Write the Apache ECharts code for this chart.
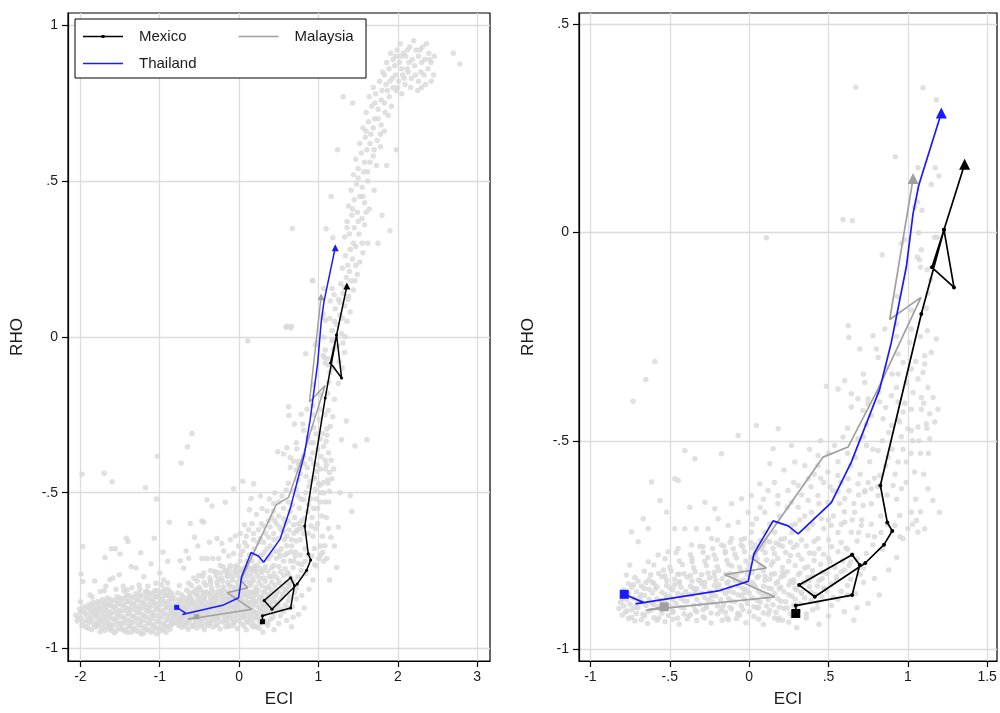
<!DOCTYPE html>
<html><head><meta charset="utf-8">
<script src="https://cdn.jsdelivr.net/npm/echarts@6/dist/echarts.min.js"></script>
<style>html,body{margin:0;padding:0;background:#fff}#c{width:1000px;height:713px}</style>
</head><body><div id="c"></div>
<script>
// ---- country paths (ECI, RHO) ----
const mexico = [[0.294,-0.914],[0.294,-0.895],[0.649,-0.870],[0.697,-0.798],[0.649,-0.773],[0.315,-0.846],[0.414,-0.874],[0.732,-0.793],[0.850,-0.749],[0.902,-0.716],[0.871,-0.696],[0.827,-0.607],[1.085,-0.196],[1.228,0.006],[1.152,-0.084],[1.291,-0.132],[1.228,0.006],[1.358,0.163]];
const thailand = [[-0.787,-0.868],[-0.663,-0.888],[-0.716,-0.891],[-0.195,-0.860],[-0.006,-0.837],[0.031,-0.770],[0.151,-0.692],[0.246,-0.704],[0.309,-0.723],[0.518,-0.648],[0.644,-0.551],[0.823,-0.376],[0.896,-0.264],[0.991,-0.082],[1.033,0.045],[1.069,0.113],[1.211,0.286]];
const malaysia = [[-0.535,-0.898],[-0.647,-0.906],[0.162,-0.874],[-0.153,-0.821],[0.109,-0.805],[0.019,-0.782],[0.466,-0.539],[0.623,-0.515],[0.812,-0.376],[1.083,-0.156],[0.886,-0.209],[1.033,0.129]];

// ---- background cloud (shown in both panels) ----
const cloudBand = [
[-0.72,-0.932],[-0.64,-0.938],[-0.53,-0.934],[-0.44,-0.94],[-0.33,-0.931],[-0.24,-0.937],[-0.13,-0.929],[-0.02,-0.936],[0.09,-0.94],[0.21,-0.93],[0.3,-0.948],
[-0.8,-0.918],[-0.74,-0.923],[-0.67,-0.916],[-0.6,-0.924],[-0.51,-0.919],[-0.45,-0.925],[-0.37,-0.917],[-0.29,-0.922],[-0.2,-0.915],[-0.14,-0.924],[-0.06,-0.918],[0.03,-0.921],[0.12,-0.916],[0.19,-0.925],[0.27,-0.92],[0.36,-0.915],
[-0.82,-0.902],[-0.77,-0.908],[-0.7,-0.9],[-0.62,-0.907],[-0.56,-0.903],[-0.48,-0.909],[-0.41,-0.901],[-0.34,-0.906],[-0.27,-0.9],[-0.18,-0.908],[-0.11,-0.903],[-0.04,-0.905],[0.05,-0.9],[0.13,-0.907],[0.22,-0.902],[0.31,-0.909],[0.4,-0.905],
[-0.81,-0.888],[-0.75,-0.892],[-0.68,-0.886],[-0.6,-0.893],[-0.53,-0.887],[-0.46,-0.891],[-0.39,-0.885],[-0.31,-0.892],[-0.23,-0.888],[-0.16,-0.894],[-0.09,-0.886],[-0.01,-0.89],[0.07,-0.887],[0.15,-0.893],[0.23,-0.886],[0.32,-0.891],[0.43,-0.888],[0.52,-0.895],
[-0.8,-0.872],[-0.73,-0.877],[-0.66,-0.871],[-0.58,-0.878],[-0.5,-0.873],[-0.43,-0.879],[-0.36,-0.87],[-0.28,-0.876],[-0.21,-0.872],[-0.13,-0.878],[-0.05,-0.871],[0.02,-0.877],[0.1,-0.873],[0.18,-0.879],[0.27,-0.872],[0.35,-0.877],[0.46,-0.874],[0.56,-0.88],
[-0.79,-0.858],[-0.71,-0.862],[-0.63,-0.856],[-0.55,-0.863],[-0.48,-0.857],[-0.4,-0.861],[-0.33,-0.855],[-0.25,-0.862],[-0.17,-0.858],[-0.1,-0.864],[-0.02,-0.857],[0.06,-0.861],[0.14,-0.855],[0.22,-0.862],[0.3,-0.858],[0.39,-0.863],[0.48,-0.856],[0.58,-0.861],[0.67,-0.866],
[-0.76,-0.843],[-0.68,-0.848],[-0.6,-0.842],[-0.52,-0.847],[-0.44,-0.841],[-0.37,-0.849],[-0.3,-0.843],[-0.22,-0.847],[-0.14,-0.841],[-0.07,-0.848],[0.01,-0.844],[0.09,-0.849],[0.17,-0.842],[0.25,-0.846],[0.34,-0.841],[0.43,-0.848],[0.52,-0.843],[0.62,-0.847],
[-0.72,-0.828],[-0.63,-0.833],[-0.55,-0.826],[-0.47,-0.832],[-0.39,-0.827],[-0.32,-0.834],[-0.25,-0.829],[-0.17,-0.831],[-0.1,-0.826],[-0.03,-0.833],[0.05,-0.828],[0.13,-0.832],[0.2,-0.827],[0.28,-0.834],[0.37,-0.828],[0.46,-0.831],[0.55,-0.826],[0.64,-0.832],
[-0.66,-0.813],[-0.57,-0.818],[-0.49,-0.812],[-0.41,-0.819],[-0.34,-0.814],[-0.26,-0.817],[-0.19,-0.811],[-0.12,-0.818],[-0.05,-0.813],[0.02,-0.816],[0.09,-0.812],[0.16,-0.819],[0.24,-0.814],[0.32,-0.817],[0.4,-0.811],[0.49,-0.818],[0.58,-0.814],
[-0.6,-0.798],[-0.5,-0.803],[-0.42,-0.797],[-0.35,-0.804],[-0.27,-0.799],[-0.2,-0.802],[-0.13,-0.796],[-0.06,-0.803],[0.0,-0.798],[0.07,-0.801],[0.14,-0.797],[0.21,-0.804],[0.29,-0.799],[0.37,-0.802],[0.45,-0.796],[0.54,-0.803],[0.63,-0.799],[0.72,-0.805],
[-0.53,-0.783],[-0.44,-0.788],[-0.36,-0.782],[-0.28,-0.789],[-0.21,-0.784],[-0.14,-0.787],[-0.08,-0.781],[-0.02,-0.788],[0.05,-0.783],[0.11,-0.786],[0.18,-0.782],[0.25,-0.789],[0.33,-0.784],[0.41,-0.787],[0.5,-0.781],[0.59,-0.788],[0.68,-0.784],
[-0.46,-0.768],[-0.37,-0.773],[-0.29,-0.767],[-0.22,-0.774],[-0.15,-0.769],[-0.09,-0.772],[-0.03,-0.766],[0.04,-0.773],[0.1,-0.768],[0.16,-0.771],[0.23,-0.767],[0.31,-0.774],[0.38,-0.769],[0.47,-0.772],[0.56,-0.766],[0.65,-0.773],
[-0.31,-0.753],[-0.23,-0.758],[-0.16,-0.752],[-0.1,-0.759],[-0.04,-0.754],[0.02,-0.757],[0.09,-0.751],[0.15,-0.758],[0.21,-0.753],[0.28,-0.756],[0.36,-0.752],[0.44,-0.759],[0.52,-0.754],[0.61,-0.757],
[-0.2,-0.738],[-0.12,-0.743],[-0.05,-0.737],[0.01,-0.744],[0.07,-0.739],[0.13,-0.742],[0.2,-0.736],[0.26,-0.743],[0.33,-0.738],[0.41,-0.741],[0.5,-0.737],[0.58,-0.744]
];
const cloudCore = [
[-0.76,-0.926],[-0.68,-0.929],[-0.57,-0.925],[-0.48,-0.928],[-0.39,-0.927],[-0.28,-0.925],[-0.17,-0.93],[-0.08,-0.926],[0.06,-0.928],[0.16,-0.925],
[-0.78,-0.911],[-0.71,-0.914],[-0.64,-0.91],[-0.55,-0.913],[-0.48,-0.911],[-0.41,-0.915],[-0.33,-0.91],[-0.24,-0.913],[-0.15,-0.911],[-0.07,-0.914],[0.0,-0.91],[0.09,-0.913],[0.17,-0.911],[0.26,-0.914],
[-0.79,-0.896],[-0.72,-0.899],[-0.65,-0.895],[-0.57,-0.898],[-0.5,-0.896],[-0.43,-0.899],[-0.35,-0.895],[-0.27,-0.898],[-0.2,-0.896],[-0.12,-0.899],[-0.05,-0.895],[0.03,-0.898],[0.11,-0.896],[0.19,-0.899],[0.28,-0.895],
[-0.77,-0.881],[-0.7,-0.884],[-0.63,-0.88],[-0.56,-0.883],[-0.48,-0.881],[-0.41,-0.884],[-0.33,-0.88],[-0.26,-0.883],[-0.18,-0.881],[-0.11,-0.884],[-0.03,-0.88],[0.05,-0.883],[0.12,-0.881],[0.2,-0.884],[0.29,-0.88],[0.39,-0.883],
[-0.76,-0.866],[-0.68,-0.869],[-0.61,-0.865],[-0.53,-0.868],[-0.45,-0.866],[-0.38,-0.869],[-0.3,-0.865],[-0.23,-0.868],[-0.15,-0.866],[-0.07,-0.869],[0.0,-0.865],[0.08,-0.868],[0.16,-0.866],[0.25,-0.869],[0.33,-0.865],[0.42,-0.868],
[-0.74,-0.851],[-0.66,-0.854],[-0.58,-0.85],[-0.5,-0.853],[-0.43,-0.851],[-0.35,-0.854],[-0.28,-0.85],[-0.2,-0.853],[-0.12,-0.851],[-0.04,-0.854],[0.04,-0.85],[0.12,-0.853],[0.2,-0.851],[0.29,-0.854],[0.38,-0.85],[0.47,-0.853],
[-0.7,-0.836],[-0.61,-0.839],[-0.52,-0.835],[-0.44,-0.838],[-0.36,-0.836],[-0.28,-0.839],[-0.21,-0.835],[-0.13,-0.838],[-0.06,-0.836],[0.02,-0.839],[0.1,-0.835],[0.18,-0.838],[0.26,-0.836],[0.35,-0.839],[0.44,-0.835],
[-0.62,-0.821],[-0.53,-0.824],[-0.45,-0.82],[-0.37,-0.823],[-0.3,-0.821],[-0.22,-0.824],[-0.15,-0.82],[-0.08,-0.823],[-0.01,-0.821],[0.06,-0.824],[0.14,-0.82],[0.22,-0.823],[0.31,-0.821],[0.4,-0.824]
];
const cloudCore2 = [
[-0.8,-0.88],[-0.77,-0.865],[-0.74,-0.905],[-0.73,-0.845],[-0.69,-0.875],[-0.66,-0.92],[-0.65,-0.84],[-0.61,-0.89],[-0.59,-0.855],[-0.58,-0.93],[-0.54,-0.81],[-0.52,-0.875],[-0.49,-0.9],[-0.47,-0.845],
[-0.44,-0.82],[-0.42,-0.87],[-0.38,-0.92],[-0.36,-0.79],[-0.34,-0.86],[-0.31,-0.835],[-0.29,-0.905],[-0.26,-0.78],[-0.24,-0.875],[-0.22,-0.815],[-0.19,-0.845],[-0.17,-0.9],[-0.15,-0.765],[-0.13,-0.86],
[-0.11,-0.8],[-0.09,-0.835],[-0.07,-0.915],[-0.05,-0.75],[-0.03,-0.865],[-0.01,-0.81],[0.01,-0.78],[0.03,-0.845],[0.06,-0.9],[0.08,-0.76],[0.1,-0.825],[0.12,-0.87],[0.15,-0.79],[0.17,-0.745],
[0.19,-0.855],[0.21,-0.815],[0.24,-0.9],[0.26,-0.775],[0.28,-0.84],[0.3,-0.75],[0.33,-0.865],[0.35,-0.805],[0.38,-0.835],[0.41,-0.77],[0.43,-0.9],[0.46,-0.815],[0.49,-0.86],[0.51,-0.79],
[0.55,-0.835],[0.6,-0.81],[0.64,-0.79],[0.7,-0.82],[0.53,-0.875],[0.62,-0.87],[0.36,-0.925],[0.25,-0.935]
];
const cloudMid = [
[-0.405,-0.523],[-0.342,-0.543],[-0.174,-0.531],[-0.069,-0.487],[0.046,-0.463],[0.183,-0.471],[0.267,-0.511],[0.151,-0.519],[0.130,-0.555],[0.288,-0.551],[0.351,-0.559],[0.434,-0.535],[0.539,-0.511],[0.592,-0.491],
[-0.615,-0.599],[-0.468,-0.591],[-0.447,-0.595],[-0.562,-0.643],[-0.52,-0.671],[-0.636,-0.71],[-0.668,-0.687],[-0.741,-0.718],[-0.699,-0.742],[-0.279,-0.647],[-0.216,-0.663],[-0.374,-0.659],[-0.111,-0.651],[-0.048,-0.639],
[0.014,-0.631],[0.067,-0.603],[0.119,-0.619],[0.182,-0.631],[0.245,-0.619],[0.309,-0.607],[0.372,-0.591],[0.434,-0.559],[0.497,-0.575],[0.560,-0.583],[0.623,-0.591],[0.686,-0.603],[0.728,-0.623],[0.770,-0.615],[0.823,-0.583],
[0.907,-0.607],[0.960,-0.615],[1.043,-0.575],[1.127,-0.615],[1.158,-0.643],[1.2,-0.671],[1.054,-0.691],[1.022,-0.671],[0.949,-0.679],[0.918,-0.703],[1.001,-0.711],[0.970,-0.735],[1.106,-0.711],[1.064,-0.719],
[0.876,-0.539],[0.939,-0.551],[0.991,-0.551],[0.813,-0.523],[0.740,-0.511],[0.686,-0.495],[0.497,-0.647],[0.434,-0.631],[0.372,-0.643],[0.309,-0.659],[0.267,-0.647],[0.560,-0.623],[0.602,-0.639],[0.665,-0.671],
[0.718,-0.655],[0.770,-0.651],[0.813,-0.631],[0.602,-0.695],[0.644,-0.719],[0.707,-0.703],[0.749,-0.727],[0.518,-0.703],[0.455,-0.687],[0.392,-0.671],[0.371,-0.711],[0.434,-0.734],[0.266,-0.703],[0.224,-0.734],
[0.161,-0.719],[0.098,-0.719],[0.014,-0.719],[-0.028,-0.734],[-0.111,-0.734],[-0.174,-0.75],[-0.237,-0.734],[-0.290,-0.754],[-0.363,-0.75],[-0.447,-0.758],[-0.510,-0.766],[-0.573,-0.774],[-0.636,-0.79],[-0.752,-0.798],
[-0.773,-0.822],[-0.468,-0.711],[-0.405,-0.711],[-0.332,-0.711],[-0.258,-0.711],[-0.195,-0.687],[-0.132,-0.703],[-0.069,-0.695],[-0.006,-0.671],[0.046,-0.687],[0.098,-0.671],[0.182,-0.651],
[-0.594,-0.31],[-0.651,-0.353],[-0.731,-0.405]
];
const cloudRise = [
[0.62,-0.76],[0.68,-0.74],[0.74,-0.77],[0.79,-0.73],[0.84,-0.76],[0.71,-0.69],[0.77,-0.7],[0.83,-0.68],[0.66,-0.65],[0.73,-0.62],[0.79,-0.59],[0.86,-0.56],[0.92,-0.58],[0.97,-0.52],[1.03,-0.5],[0.88,-0.48],
[0.94,-0.45],[1.08,-0.53],[1.12,-0.47],[0.7,-0.58],[0.76,-0.55],[0.64,-0.56],[0.58,-0.6],[0.53,-0.62],[0.47,-0.6],[0.41,-0.58],[0.44,-0.65],[0.5,-0.69],[0.56,-0.72],[0.6,-0.67],[0.35,-0.68],[0.29,-0.7],
[0.24,-0.66],[0.19,-0.68],[0.13,-0.7],[0.07,-0.66],[0.93,-0.78],[0.88,-0.81],[0.79,-0.83],[0.72,-0.84],[0.82,-0.87],[0.75,-0.89],[0.68,-0.9],[0.6,-0.91],[0.5,-0.92],[0.44,-0.94],[0.66,-0.93],[0.182,-0.93]
];
const cloudRise2 = [
[0.02,-0.7],[0.09,-0.64],[0.16,-0.6],[0.22,-0.57],[0.28,-0.6],[0.33,-0.63],[0.39,-0.61],[0.45,-0.59],[0.51,-0.61],[0.57,-0.65],[0.63,-0.62],[0.69,-0.63],[0.75,-0.6],[0.81,-0.61],[0.87,-0.63],[0.93,-0.64],[0.99,-0.6],[1.05,-0.64],[1.1,-0.58],
[0.04,-0.75],[0.11,-0.74],[0.19,-0.75],[0.27,-0.72],[0.32,-0.69],[0.4,-0.7],[0.47,-0.71],[0.53,-0.68],[0.58,-0.7],[0.65,-0.69],[0.69,-0.72],[0.78,-0.75],[0.83,-0.72],[0.87,-0.7],[0.95,-0.73],[1.03,-0.7],[1.08,-0.67],
[0.38,-0.52],[0.45,-0.5],[0.5,-0.53],[0.56,-0.55],[0.62,-0.53],[0.67,-0.54],[0.72,-0.49],[0.78,-0.52],[0.84,-0.5],[0.9,-0.52],[0.96,-0.49],[1.02,-0.53],[1.07,-0.5],[1.13,-0.53],
[0.62,-0.47],[0.74,-0.46],[0.86,-0.42],[0.98,-0.41],[1.1,-0.41],[0.72,-0.34],[0.9,-0.34],[1.05,-0.31],[0.93,-0.25],[1.08,-0.25]
];
const cloudUpper = [
[0.624,-0.224],[0.628,-0.252],[0.781,-0.248],[0.855,-0.232],[0.928,-0.22],[1.022,-0.232],[1.123,-0.236],[1.180,-0.256],[1.148,-0.288],[1.106,-0.296],[1.012,-0.264],[0.939,-0.292],[0.970,-0.312],[0.802,-0.28],
[0.813,-0.3],[0.697,-0.28],[0.865,-0.324],[0.939,-0.34],[1.022,-0.328],[1.096,-0.336],[1.064,-0.352],[0.991,-0.36],[0.928,-0.372],[0.897,-0.392],[1.033,-0.384],[1.085,-0.396],[1.159,-0.396],[1.19,-0.424],
[1.138,-0.435],[1.085,-0.424],[1.022,-0.424],[0.970,-0.431],[0.939,-0.407],[0.823,-0.407],[0.749,-0.411],[0.686,-0.399],[0.644,-0.387],[0.602,-0.356],[0.560,-0.376],[0.487,-0.369],[0.644,-0.419],[0.718,-0.427],
[0.770,-0.439],[0.844,-0.447],[0.897,-0.463],[0.949,-0.455],[1.001,-0.471],[1.064,-0.467],[1.117,-0.459],[1.169,-0.455],[1.138,-0.495],[1.022,-0.475],[0.728,-0.360],[0.749,-0.399],[0.813,-0.384],[1.106,-0.316],[1.127,-0.372],
[0.672,0.348],[1.096,0.347],[1.180,0.318],[0.921,0.181],[1.064,0.155],[1.173,0.155],[1.196,0.135],[1.148,0.115],[0.592,0.031],[0.651,0.028],[0.109,-0.013],[1.060,0.073],[1.089,0.053],[1.043,0.061],
[1.068,-0.001],[1.169,-0.012],[1.186,-0.012],[0.839,-0.054],[1.085,-0.042],[1.060,-0.060],[1.074,-0.066],[1.080,-0.084],[1.122,-0.090],[0.980,-0.018],[1.144,-0.114],[0.933,-0.154],[1.127,-0.146],[1.022,-0.186],[1.117,-0.182],[0.959,-0.026]
];

// ---- background cloud (left panel only) ----
const cloudTail = [
[-2.06,-0.893],[-2.04,-0.912],[-2.01,-0.874],[-1.99,-0.902],[-1.98,-0.926],[-1.95,-0.866],[-1.94,-0.888],[-1.92,-0.909],[-1.93,-0.931],[-1.89,-0.858],[-1.88,-0.879],[-1.87,-0.898],[-1.9,-0.918],[-1.86,-0.94],
[-1.84,-0.852],[-1.83,-0.871],[-1.82,-0.893],[-1.85,-0.913],[-1.81,-0.932],[-1.78,-0.848],[-1.77,-0.868],[-1.79,-0.887],[-1.76,-0.906],[-1.78,-0.926],[-1.75,-0.946],[-1.72,-0.843],[-1.71,-0.863],[-1.73,-0.882],
[-1.7,-0.902],[-1.72,-0.921],[-1.69,-0.941],[-1.66,-0.838],[-1.65,-0.858],[-1.67,-0.877],[-1.64,-0.897],[-1.66,-0.918],[-1.63,-0.937],[-1.6,-0.848],[-1.59,-0.867],[-1.61,-0.887],[-1.58,-0.907],[-1.6,-0.928],
[-1.57,-0.949],[-1.54,-0.834],[-1.53,-0.853],[-1.55,-0.873],[-1.52,-0.893],[-1.54,-0.913],[-1.51,-0.933],[-1.48,-0.843],[-1.47,-0.862],[-1.49,-0.882],[-1.46,-0.902],[-1.48,-0.922],[-1.45,-0.943],[-1.42,-0.829],
[-1.41,-0.849],[-1.43,-0.869],[-1.4,-0.888],[-1.42,-0.908],[-1.39,-0.928],[-1.41,-0.948],[-1.36,-0.838],[-1.35,-0.857],[-1.37,-0.877],[-1.34,-0.897],[-1.36,-0.918],[-1.33,-0.938],[-1.3,-0.824],[-1.29,-0.843],
[-1.31,-0.863],[-1.28,-0.883],[-1.3,-0.903],[-1.27,-0.924],[-1.29,-0.944],[-1.24,-0.833],[-1.23,-0.853],[-1.25,-0.873],[-1.22,-0.893],[-1.24,-0.913],[-1.21,-0.934],[-1.23,-0.953],[-1.18,-0.819],[-1.17,-0.838],
[-1.19,-0.858],[-1.16,-0.878],[-1.18,-0.898],[-1.15,-0.918],[-1.17,-0.939],[-1.12,-0.828],[-1.11,-0.848],[-1.13,-0.868],[-1.1,-0.888],[-1.12,-0.908],[-1.09,-0.928],[-1.11,-0.948],[-1.06,-0.814],[-1.05,-0.833],
[-1.07,-0.853],[-1.04,-0.873],[-1.06,-0.893],[-1.03,-0.913],[-1.05,-0.933],[-1.04,-0.953],[-1.0,-0.823],[-0.99,-0.843],[-1.01,-0.863],[-0.98,-0.883],[-1.0,-0.903],[-0.97,-0.923],[-0.99,-0.944],[-0.94,-0.809],
[-0.93,-0.828],[-0.95,-0.848],[-0.92,-0.868],[-0.94,-0.888],[-0.91,-0.908],[-0.93,-0.928],[-0.92,-0.948],[-0.88,-0.818],[-0.87,-0.838],[-0.89,-0.858],[-0.86,-0.878],[-0.88,-0.898],[-0.85,-0.918],[-0.87,-0.938],
[-0.84,-0.828],[-0.83,-0.862],[-0.84,-0.905]
];
const cloudTail2 = [
[-2.03,-0.903],[-2.0,-0.885],[-1.97,-0.915],[-1.96,-0.877],[-1.91,-0.869],[-1.92,-0.893],[-1.9,-0.935],[-1.86,-0.862],[-1.85,-0.884],[-1.88,-0.906],[-1.83,-0.924],[-1.8,-0.858],[-1.81,-0.879],[-1.8,-0.9],
[-1.79,-0.917],[-1.74,-0.853],[-1.75,-0.873],[-1.74,-0.894],[-1.75,-0.914],[-1.73,-0.935],[-1.68,-0.85],[-1.69,-0.87],[-1.68,-0.89],[-1.69,-0.91],[-1.67,-0.93],[-1.62,-0.842],[-1.63,-0.862],[-1.62,-0.882],
[-1.63,-0.902],[-1.62,-0.921],[-1.61,-0.941],[-1.56,-0.845],[-1.57,-0.865],[-1.56,-0.885],[-1.57,-0.904],[-1.56,-0.924],[-1.55,-0.942],[-1.5,-0.838],[-1.51,-0.858],[-1.5,-0.878],[-1.51,-0.898],[-1.5,-0.918],
[-1.49,-0.938],[-1.44,-0.838],[-1.45,-0.858],[-1.44,-0.878],[-1.45,-0.898],[-1.44,-0.918],[-1.43,-0.938],[-1.38,-0.83],[-1.39,-0.85],[-1.38,-0.87],[-1.39,-0.89],[-1.38,-0.91],[-1.37,-0.93],[-1.36,-0.948],
[-1.32,-0.835],[-1.33,-0.855],[-1.32,-0.875],[-1.33,-0.895],[-1.32,-0.915],[-1.31,-0.935],[-1.26,-0.825],[-1.27,-0.845],[-1.26,-0.865],[-1.27,-0.885],[-1.26,-0.905],[-1.25,-0.925],[-1.26,-0.945],[-1.2,-0.83],
[-1.21,-0.85],[-1.2,-0.87],[-1.21,-0.89],[-1.2,-0.91],[-1.19,-0.93],[-1.2,-0.95],[-1.14,-0.82],[-1.15,-0.84],[-1.14,-0.86],[-1.15,-0.88],[-1.14,-0.9],[-1.13,-0.92],[-1.14,-0.94],[-1.08,-0.823],
[-1.09,-0.843],[-1.08,-0.863],[-1.09,-0.883],[-1.08,-0.903],[-1.07,-0.923],[-1.08,-0.943],[-1.02,-0.815],[-1.03,-0.835],[-1.02,-0.855],[-1.03,-0.875],[-1.02,-0.895],[-1.01,-0.915],[-1.02,-0.935],[-0.96,-0.818],
[-0.97,-0.838],[-0.96,-0.858],[-0.97,-0.878],[-0.96,-0.898],[-0.95,-0.918],[-0.96,-0.938],[-0.9,-0.81],[-0.91,-0.83],[-0.9,-0.85],[-0.91,-0.87],[-0.9,-0.89],[-0.89,-0.91],[-0.9,-0.93],[-0.86,-0.82],
[-0.85,-0.845],[-0.86,-0.868],[-0.85,-0.888],[-0.86,-0.925],[-0.82,-0.84],[-0.82,-0.88],[-0.83,-0.92],
[-1.55,-0.81],[-1.35,-0.805],[-1.15,-0.8],[-0.98,-0.795],[-1.7,-0.815],[-1.25,-0.81],[-1.05,-0.79],[-0.9,-0.79],[-1.45,-0.815],[-1.85,-0.835],[-2.0,-0.85]
];
const cloudTailScatter = [
[-1.98,-0.441],[-1.70,-0.438],[-1.60,-0.465],[-1.18,-0.484],[-1.03,-0.383],[-1.04,-0.52],[-1.97,-0.673],[-1.69,-0.708],[-1.61,-0.68],[-1.56,-0.68],[-1.50,-0.697],[-1.42,-0.646],[-1.40,-0.657],[-1.24,-0.693],
[-1.07,-0.646],[-0.88,-0.595],[-1.99,-0.761],[-1.97,-0.785],[-1.82,-0.783],[-1.63,-0.779],[-1.59,-0.774],[-1.51,-0.763],[-1.36,-0.737],[-1.30,-0.742],[-1.26,-0.796],[-1.11,-0.728],[-1.0,-0.758],[-1.75,-0.817],
[-1.88,-0.828],[-1.41,-0.812],[-1.17,-0.817],[-0.95,-0.78],[-0.9,-0.72],[-1.2,-0.77],[-1.46,-0.8],[-1.68,-0.8],[-0.96,-0.69]
];
const cloudUpperBranch = [
[1.12,-0.07],[1.19,-0.04],[1.26,-0.08],[1.31,-0.02],[1.17,0.02],[1.23,0.04],[1.29,0.01],[1.36,0.05],[1.14,0.06],[1.21,0.09],[1.27,0.07],[1.33,0.1],[1.4,0.08],
[1.25,0.12],[1.31,0.14],[1.38,0.13],[1.44,0.15],[1.28,0.17],[1.35,0.19],[1.41,0.18],[1.49,0.2],[1.3,0.22],[1.37,0.23],[1.43,0.25],[1.52,0.24],[1.34,0.26],[1.4,0.28],[1.47,0.29],[1.56,0.27],[1.62,0.3],
[1.33,0.32],[1.39,0.33],[1.45,0.35],[1.51,0.33],[1.58,0.36],[1.36,0.37],[1.42,0.39],[1.49,0.4],[1.55,0.38],[1.64,0.41],[1.38,0.42],[1.45,0.44],[1.52,0.45],[1.58,0.43],[1.41,0.47],[1.48,0.49],[1.55,0.48],[1.62,0.5],[1.7,0.47],
[1.44,0.52],[1.5,0.54],[1.57,0.53],[1.65,0.56],[1.73,0.55],[1.47,0.57],[1.54,0.59],[1.61,0.6],[1.69,0.58],[1.78,0.61],[1.52,0.62],[1.59,0.64],[1.66,0.65],[1.74,0.63],[1.83,0.66],[1.56,0.67],[1.63,0.69],[1.71,0.7],[1.79,0.68],[1.88,0.71],
[1.6,0.72],[1.67,0.74],[1.75,0.73],[1.83,0.75],[1.92,0.74],[1.64,0.77],[1.72,0.78],[1.8,0.79],[1.89,0.77],[1.98,0.79],[2.05,0.78],[1.69,0.8],
[1.77,0.82],[1.85,0.81],[1.93,0.83],[2.01,0.82],[2.09,0.81],[2.17,0.83],[2.26,0.82],[2.35,0.81],[1.81,0.85],[1.89,0.86],[1.97,0.84],[2.05,0.86],[2.13,0.85],[2.21,0.87],[2.29,0.85],[2.38,0.86],[2.45,0.84],
[1.86,0.88],[1.94,0.89],[2.02,0.88],[2.1,0.9],[2.18,0.89],[2.26,0.9],[2.34,0.89],[2.42,0.88],[1.91,0.91],[1.99,0.92],[2.07,0.91],[2.15,0.93],[2.23,0.92],[2.31,0.93],[2.39,0.91],[2.46,0.9],[2.03,0.94],[2.2,0.95],[2.36,0.94],
[2.12,0.86],[2.0,0.8],[2.25,0.79],[2.42,0.82],[2.06,0.84],[2.22,0.84],[2.3,0.88],[1.96,0.87],[2.14,0.88],[2.33,0.84],
[1.18,-0.1],[1.24,-0.03],[1.34,0.0],[1.2,0.05],[1.3,0.06],[1.37,0.12],[1.27,0.11],[1.33,0.16],[1.46,0.18],[1.39,0.21],[1.47,0.23],[1.55,0.3],[1.44,0.3],[1.36,0.35],[1.5,0.37],[1.6,0.4],[1.43,0.41],
[1.56,0.45],[1.5,0.51],[1.62,0.53],[1.58,0.56],[1.7,0.6],[1.65,0.62],[1.6,0.66],[1.78,0.65],[1.69,0.67],[1.75,0.7],[1.84,0.72],[1.71,0.75],[1.79,0.76],[1.87,0.79],[1.94,0.8],[1.83,0.84],[1.9,0.82],
[2.08,0.83],[2.16,0.8],[2.3,0.8],[2.04,0.9],[2.28,0.92],[2.4,0.89],[1.97,0.9],[2.12,0.92]
];
const cloudLeftExtra = [
[2.7,0.91],[2.78,0.875],[1.9,0.34],[1.8,0.39],[1.31,0.77],[1.43,0.75],[0.6,0.034],[0.66,0.034],[0.93,0.18],[1.16,0.45],[1.24,0.6],[1.98,0.6],[1.86,0.55],[1.75,0.3],
[1.61,-0.33],[1.46,-0.35],[1.40,-0.51],[1.42,-0.56],[1.27,-0.50],[1.23,-0.74],[1.14,-0.78],[1.25,-0.61],[1.29,-0.33],[1.35,-0.27],[1.2,-0.2],[1.25,-0.15],[1.3,-0.1],[1.33,-0.05]
];

// ---- ticks ----
const xTicksL = [-2,-1,0,1,2,3];
const yTicksL = [-1,-0.5,0,0.5,1];
const xTicksR = [-1,-0.5,0,0.5,1,1.5];
const yTicksR = [-1,-0.5,0,0.5];

const sharedCloud = [].concat(cloudBand, cloudCore, cloudCore2, cloudMid, cloudRise, cloudRise2, cloudUpper);
const leftCloud = [].concat(cloudTail, cloudTail2, cloudTailScatter, sharedCloud, cloudUpperBranch, cloudLeftExtra);

const FONT = 'Liberation Sans, Arial, sans-serif';
const TXT = '#1a1a1a';
function fmt(v){ let s = String(Math.round(v*100)/100); return s.replace(/^(-?)0\./,'$1.'); }

function xAxis(gi, min, max, ticks){
  return {gridIndex:gi, type:'value', min:min, max:max, name:'ECI', nameLocation:'middle', nameGap:30,
    nameTextStyle:{fontSize:17, color:TXT, fontFamily:FONT},
    axisLine:{show:true, onZero:false, lineStyle:{color:'#000', width:1.2}},
    axisTick:{show:true, length:6, customValues:ticks, lineStyle:{color:'#000', width:1.2}},
    axisLabel:{customValues:ticks, formatter:fmt, fontSize:14, color:TXT, fontFamily:FONT, margin:9},
    splitLine:{show:true, lineStyle:{color:'#dcdcdc', width:1.3}}};
}
function yAxis(gi, min, max, ticks){
  return {gridIndex:gi, type:'value', min:min, max:max, name:'RHO', nameLocation:'middle', nameGap:42,
    nameTextStyle:{fontSize:17, color:TXT, fontFamily:FONT},
    axisLine:{show:true, onZero:false, lineStyle:{color:'#000', width:1.2}},
    axisTick:{show:true, length:6, customValues:ticks, lineStyle:{color:'#000', width:1.2}},
    axisLabel:{customValues:ticks, formatter:fmt, fontSize:14, color:TXT, fontFamily:FONT, margin:10},
    splitLine:{show:true, lineStyle:{color:'#dcdcdc', width:1.3}}};
}

function pathSeries(name, pts, color, gi, big, dots){
  const n = pts.length;
  const data = pts.map(function(p, i){
    if (i === 0) return {value:p, symbol:'rect', symbolSize: big ? 9 : 5};
    if (i === n-1) return {value:p, symbol:'triangle', symbolSize: big ? 11 : 7};
    return {value:p, symbol: dots ? 'circle' : 'none', symbolSize: dots ? (big ? 4 : 3) : 0};
  });
  return {type:'line', name:name, xAxisIndex:gi, yAxisIndex:gi, data:data, color:color,
    lineStyle:{color:color, width: big ? 1.7 : 1.5}, itemStyle:{color:color, borderWidth:0},
    symbol: dots ? 'circle' : 'none', showSymbol:true, silent:true, z: name==='Malaysia' ? 3 : (name==='Mexico' ? 4 : 5),
    emphasis:{disabled:true}};
}
function cloudSeries(pts, gi){
  return {type:'scatter', xAxisIndex:gi, yAxisIndex:gi, data:pts, symbolSize:5.5, symbol:'circle',
    itemStyle:{color:'#d8d8d8'}, silent:true, z:1, clip:true, progressive:0};
}

const lineIcon = 'path://M0,0H40V1.5H0Z';
const dotIcon = 'path://M0,0.75H40V2.25H0Z M18.5,0H21.5V3H18.5Z';

const option = {
  animation:false,
  backgroundColor:'#fff',
  grid:[
    {left:68, top:13, width:422, height:650, show:true, borderColor:'#000', borderWidth:1.2, backgroundColor:'rgba(0,0,0,0)'},
    {left:579, top:13, width:418, height:650, show:true, borderColor:'#000', borderWidth:1.2, backgroundColor:'rgba(0,0,0,0)'}
  ],
  xAxis:[xAxis(0,-2.156,3.161,xTicksL), xAxis(1,-1.072,1.562,xTicksR)],
  yAxis:[yAxis(0,-1.04,1.039,yTicksL), yAxis(1,-1.028,0.526,yTicksR)],
  legend:[
    {data:[{name:'Mexico', icon:dotIcon},{name:'Malaysia', icon:lineIcon}], left:83, top:29, padding:0, itemWidth:40, itemHeight:3, itemGap:52,
     selectedMode:false, z:5, itemStyle:{borderWidth:0}, textStyle:{fontSize:15, color:TXT, fontFamily:FONT, padding:[0,0,0,11]}},
    {data:[{name:'Thailand', icon:lineIcon}], left:83, top:56, padding:0, itemWidth:40, itemHeight:3,
     selectedMode:false, z:5, itemStyle:{borderWidth:0}, textStyle:{fontSize:15, color:TXT, fontFamily:FONT, padding:[0,0,0,11]}}
  ],
  graphic:[{type:'rect', shape:{x:75, y:19, width:291, height:59}, style:{fill:'#fff', stroke:'#000', lineWidth:1}, z:3, silent:true}],
  series:[
    cloudSeries(leftCloud, 0),
    cloudSeries(sharedCloud, 1),
    pathSeries('Malaysia', malaysia, '#a0a0a0', 0, false, false),
    pathSeries('Mexico', mexico, '#000000', 0, false, true),
    pathSeries('Thailand', thailand, '#1a1aff', 0, false, false),
    pathSeries('Malaysia', malaysia, '#a0a0a0', 1, true, false),
    pathSeries('Mexico', mexico, '#000000', 1, true, true),
    pathSeries('Thailand', thailand, '#1a1aff', 1, true, false)
  ]
};
const chart = echarts.init(document.getElementById('c'), null, {renderer:'canvas'});
chart.setOption(option);
</script></body></html>
